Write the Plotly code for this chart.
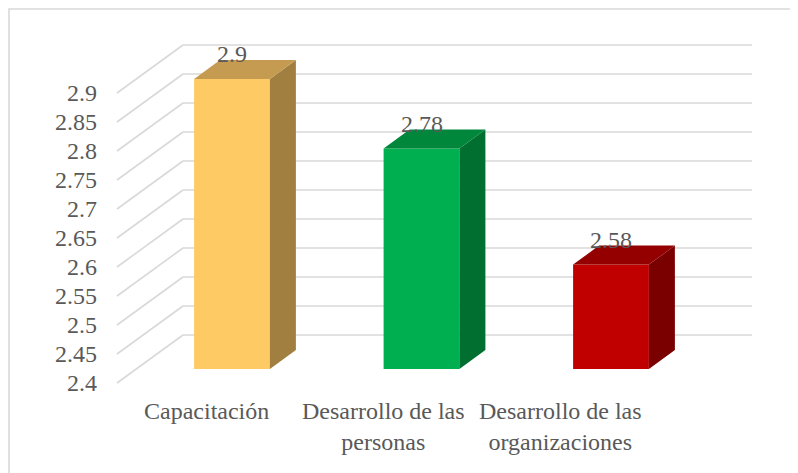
import plotly.graph_objects as go

# ---- data ----
categories = ["Capacitación", "Desarrollo de las personas", "Desarrollo de las organizaciones"]
category_labels = ["Capacitación", "Desarrollo de las<br>personas", "Desarrollo de las<br>organizaciones"]
values = [2.9, 2.78, 2.58]
tick_values = [2.4, 2.45, 2.5, 2.55, 2.6, 2.65, 2.7, 2.75, 2.8, 2.85, 2.9]
tick_labels = ["2.4", "2.45", "2.5", "2.55", "2.6", "2.65", "2.7", "2.75", "2.8", "2.85", "2.9"]

# ---- style ----
front_colors = ["#FDCA64", "#00B050", "#C00000"]
top_colors = ["#C49B50", "#00873B", "#940000"]
side_colors = ["#A17F41", "#006F2F", "#7A0000"]
grid_color = "#D9D9D9"
text_color = "#595959"
FONT = "Liberation Serif"

PAGE_OFF = 8          # page body margin
W, H = 798 - PAGE_OFF, 473 - PAGE_OFF
ML = 90
PX_X = 189.5          # px per category unit
PX_Y = 580.0          # px per value unit
X0_PX = 232.0 - PAGE_OFF   # pixel of category 0 (figure coords)
Y_BASE = 2.4
Y_BASE_PX = 383.0 - PAGE_OFF

x_range = [(ML - X0_PX) / PX_X, (W - X0_PX) / PX_X]
y_range = [Y_BASE - (H - Y_BASE_PX) / PX_Y, Y_BASE + Y_BASE_PX / PX_Y]

# 3D geometry (in data units)
WALL_DX = 66 / PX_X
WALL_DY = 48 / PX_Y
FRONT_LEFT = (117 - PAGE_OFF - X0_PX) / PX_X
BACK_LEFT = FRONT_LEFT + WALL_DX
BACK_RIGHT = (752 - PAGE_OFF - X0_PX) / PX_X
OFF = 14 / PX_Y            # bar front face shift relative to front plane
BAR_W = 0.4
BAR_DX = 26 / PX_X
BAR_DY = 19 / PX_Y

fig = go.Figure()

shapes = []
for v in tick_values:
    shapes.append(dict(type="line", xref="x", yref="y", x0=BACK_LEFT, x1=BACK_RIGHT,
                       y0=v + WALL_DY, y1=v + WALL_DY, line=dict(color=grid_color, width=1.6),
                       layer="below"))
    shapes.append(dict(type="line", xref="x", yref="y", x0=FRONT_LEFT, x1=BACK_LEFT,
                       y0=v, y1=v + WALL_DY, line=dict(color=grid_color, width=1.6),
                       layer="below"))
# outer border
shapes.append(dict(type="rect", xref="paper", yref="paper",
                   x0=(1 - ML) / (W - ML), x1=1.2, y0=-0.2, y1=1 - 1 / H,
                   line=dict(color=grid_color, width=1.6), layer="below"))

# front faces
fig.add_trace(go.Bar(
    x=list(range(len(values))),
    y=[v - Y_BASE for v in values],
    base=Y_BASE + OFF,
    width=BAR_W,
    marker=dict(color=front_colors, line=dict(width=0)),
    hoverinfo="skip",
))

# side and top faces
for i, v in enumerate(values):
    xr = i + BAR_W / 2
    xl = i - BAR_W / 2
    yb = Y_BASE + OFF
    yt = v + OFF
    fig.add_trace(go.Scatter(
        x=[xr, xr + BAR_DX, xr + BAR_DX, xr, xr],
        y=[yb, yb + BAR_DY, yt + BAR_DY, yt, yb],
        fill="toself", fillcolor=side_colors[i], mode="lines",
        line=dict(width=0, color=side_colors[i]), hoverinfo="skip"))
    fig.add_trace(go.Scatter(
        x=[xl, xr, xr + BAR_DX, xl + BAR_DX, xl],
        y=[yt, yt, yt + BAR_DY, yt + BAR_DY, yt],
        fill="toself", fillcolor=top_colors[i], mode="lines",
        line=dict(width=0, color=top_colors[i]), hoverinfo="skip"))

annotations = []
for i, v in enumerate(values):
    annotations.append(dict(x=i, y=v + OFF, xref="x", yref="y", text=f"{v:g}",
                            showarrow=False, yanchor="middle", yshift=25,
                            font=dict(family=FONT, size=24, color=text_color)))
for i, lab in enumerate(category_labels):
    annotations.append(dict(x=i * 0.934 - 0.132, y=Y_BASE, xref="x", yref="y", text=lab,
                            showarrow=False, yanchor="top", yshift=-13, align="center",
                            font=dict(family=FONT, size=24, color=text_color)))

fig.update_layout(
    width=W, height=H,
    margin=dict(l=ML, r=0, t=0, b=0, autoexpand=False),
    paper_bgcolor="white", plot_bgcolor="white",
    showlegend=False,
    shapes=shapes,
    annotations=annotations,
    xaxis=dict(range=x_range, visible=False, fixedrange=True),
    yaxis=dict(range=y_range, tickvals=tick_values, ticktext=tick_labels,
               showgrid=False, zeroline=False, showline=False, ticks="",
               ticklabelstandoff=0, fixedrange=True,
               tickfont=dict(family=FONT, size=24, color=text_color)),
)

fig.write_html("out.html")
